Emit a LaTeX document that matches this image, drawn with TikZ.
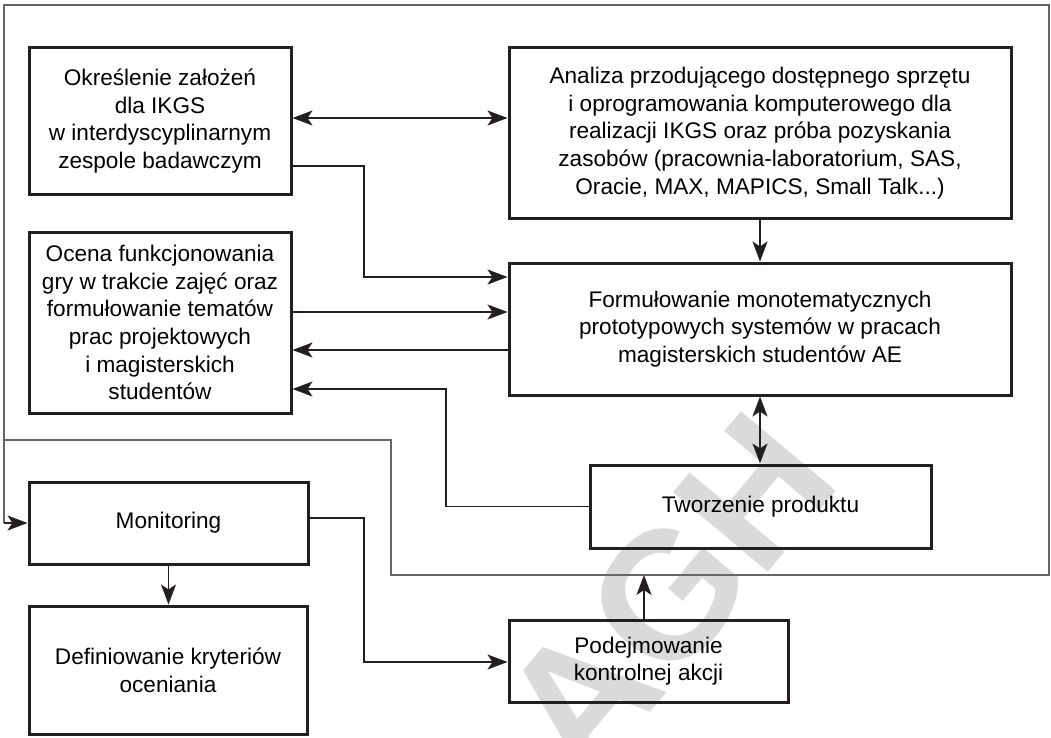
\documentclass[tikz,border=0pt]{standalone}
\usepackage{fontspec}
\setmainfont{Liberation Sans}
\usetikzlibrary{arrows.meta}
\definecolor{wm}{HTML}{DADADA}
\definecolor{ink}{HTML}{231F20}
\tikzset{
  box/.style={draw=ink, line width=3pt, align=center, text=black, inner sep=0pt,
    font=\fontsize{22.6}{27.7}\selectfont},
  conn/.style={draw=ink, line width=1.4pt, -{Stealth[length=20pt,width=15pt,inset=5pt]}},
  dconn/.style={draw=ink, line width=1.4pt, {Stealth[length=20pt,width=15pt,inset=5pt]}-{Stealth[length=20pt,width=15pt,inset=5pt]}},
  loopline/.style={draw=black!60, line width=1.4pt},
}
\begin{document}
\begin{tikzpicture}[x=1pt,y=-1pt]
\useasboundingbox (0,0) rectangle (1051,738);
\clip (0,0) rectangle (1051,738);
% watermark
\node[text=wm, rotate=50, font=\fontsize{180}{180}\bfseries\selectfont, inner sep=0pt] (wmark) at (668,595) {AGH};
% boxes
\node[box, minimum width=262pt, minimum height=146pt] (A) at (160,121) {Określenie założeń\\dla IKGS\\w interdyscyplinarnym\\zespole badawczym};
\node[box, minimum width=502pt, minimum height=170pt] (B) at (760,133) {Analiza przodującego dostępnego sprzętu\\i oprogramowania komputerowego dla\\realizacji IKGS oraz próba pozyskania\\zasobów (pracownia-laboratorium, SAS,\\Oracie, MAX, MAPICS, Small Talk...)};
\node[box, minimum width=502pt, minimum height=132pt] (C) at (760,329) {Formułowanie monotematycznych\\prototypowych systemów w pracach\\magisterskich studentów AE};
\node[box, minimum width=262pt, minimum height=181pt] (D) at (160,322.5) {Ocena funkcjonowania\\gry w trakcie zajęć oraz\\formułowanie tematów\\prac projektowych\\i magisterskich\\studentów};
\node[box, minimum width=341pt, minimum height=83pt] (E) at (760.5,506.5) {Tworzenie produktu};
\node[box, minimum width=279pt, minimum height=82pt] (F) at (168.5,523) {Monitoring};
\node[box, minimum width=278pt, minimum height=128pt] (G) at (168,670) {Definiowanie kryteriów\\oceniania};
\node[box, minimum width=279pt, minimum height=82pt] (H) at (648.5,661) {Podejmowanie\\kontrolnej akcji};
% loop coordinates
\coordinate (L1) at (4,5);
\coordinate (L2) at (1049,5);
\coordinate (L3) at (1049,575);
\coordinate (L4) at (391,575);
\coordinate (L5) at (391,440);
\coordinate (L6) at (4,440);
\coordinate (Hup) at (644,575);
% connectors
\draw[dconn] (A.east|-0,118) -- (B.west|-0,118);
\draw[conn] (A.east|-0,166) -| (364,277) -- (C.west|-0,277);
\draw[conn] (B.south) -- (C.north);
\draw[conn] (D.east|-0,312) -- (C.west|-0,312);
\draw[conn] (C.west|-0,350) -- (D.east|-0,350);
\draw[conn] (E.west) -| (446,389) -- (D.east|-0,389);
\draw[dconn] (C.south) -- (C.south|-E.north);
\draw[conn] (F.south) -- (F.south|-G.north);
\draw[conn] (F.east|-0,518) -| (364,662) -- (H.west|-0,662);
\draw[conn] (H.north-|Hup) -- (Hup);
\draw[loopline] (L6) -- (L5) -- (L4) -- (L3) -- (L2) -- (L1) -- (4,523);
\draw[conn] (4,523) -- (F.west);
\end{tikzpicture}
\end{document}
